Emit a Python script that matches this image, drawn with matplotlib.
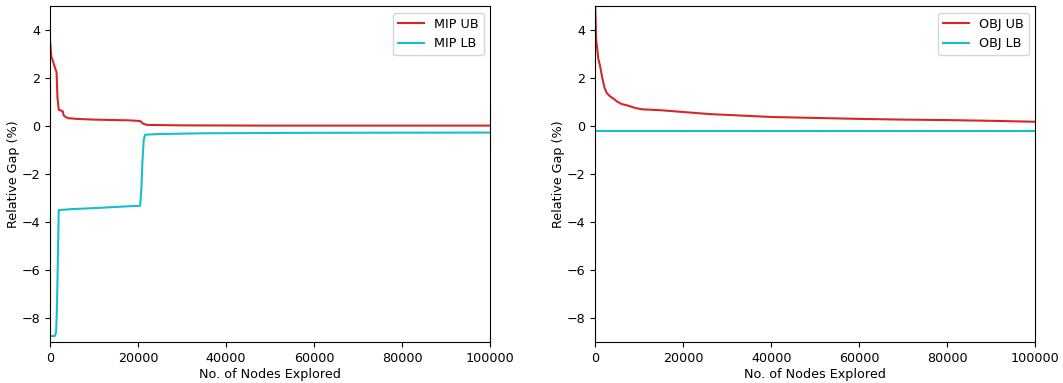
import matplotlib
matplotlib.use("Agg")
import matplotlib.pyplot as plt

plt.rcParams["font.size"] = 9.2

# ==============================
# DATOS
# ==============================
mip_ub_x = [0, 300, 700, 1100, 1500, 1700, 2000, 2900, 3100, 3400, 4100, 6000, 10000,
            15000, 18000, 20500, 21200, 22000, 30000, 50000, 100000]
mip_ub_y = [3.6, 2.9, 2.7, 2.45, 2.25, 1.2, 0.68, 0.62, 0.45, 0.4, 0.33, 0.3, 0.27,
            0.25, 0.24, 0.21, 0.1, 0.05, 0.03, 0.02, 0.02]

mip_lb_x = [0, 1100, 1400, 1600, 1800, 2000, 5000, 10000, 16000, 20500, 20800, 21000,
            21300, 21600, 25000, 35000, 60000, 100000]
mip_lb_y = [-8.75, -8.75, -8.6, -7.5, -5.5, -3.5, -3.46, -3.42, -3.36, -3.32, -2.5, -1.5,
            -0.6, -0.36, -0.33, -0.3, -0.28, -0.27]

obj_ub_x = [0, 200, 400, 700, 1100, 1600, 2100, 2650, 3300, 4100, 5000, 6000, 7500,
            9000, 10600, 15000, 20500, 26000, 31800, 40000, 50000, 60000, 70000,
            80000, 90000, 100000]
obj_ub_y = [5.0, 3.6, 3.3, 2.8, 2.5, 2.0, 1.6, 1.37, 1.25, 1.15, 1.02, 0.92, 0.85,
            0.76, 0.7, 0.66, 0.58, 0.5, 0.45, 0.38, 0.34, 0.3, 0.27, 0.25, 0.22, 0.18]

obj_lb_x = [0, 100000]
obj_lb_y = [-0.2, -0.2]

# ==============================
# GRÁFICO
# ==============================
fig, (ax1, ax2) = plt.subplots(1, 2, figsize=(10.63, 3.83), dpi=100)
fig.subplots_adjust(left=0.047, right=0.974, top=0.984, bottom=0.107, wspace=0.239)

ax1.plot(mip_ub_x, mip_ub_y, color="tab:red", label="MIP UB")
ax1.plot(mip_lb_x, mip_lb_y, color="tab:cyan", label="MIP LB")

ax2.plot(obj_ub_x, obj_ub_y, color="tab:red", label="OBJ UB")
ax2.plot(obj_lb_x, obj_lb_y, color="tab:cyan", label="OBJ LB")

for ax in (ax1, ax2):
    ax.set_xlim(0, 100000)
    ax.set_ylim(-9, 5)
    ax.set_xlabel("No. of Nodes Explored", labelpad=2)
    ax.set_ylabel("Relative Gap (%)", labelpad=1)
    ax.legend(loc="upper right")

plt.savefig("out.png")
plt.close()
